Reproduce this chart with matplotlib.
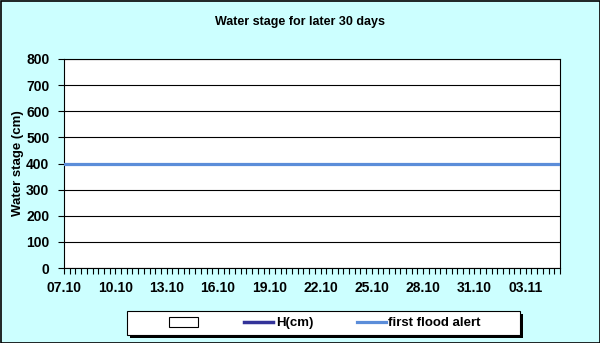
import matplotlib
matplotlib.use("Agg")
import matplotlib.pyplot as plt
from matplotlib.lines import Line2D
from matplotlib.patches import Patch, Rectangle

# x axis: 3 readings per day, labels every 3 days
date_labels = ["07.10", "10.10", "13.10", "16.10", "19.10",
               "22.10", "25.10", "28.10", "31.10", "03.11"]
steps_per_day = 3
n_steps = 87

h_cm = []             # no readings yet
flood_alert = 400     # first flood alert level (cm)

plt.rcParams['font.family'] = ['Liberation Sans', 'DejaVu Sans']
plt.rcParams['font.weight'] = 'bold'

W, H = 600, 343
fig = plt.figure(figsize=(6, 3.43), dpi=100, facecolor='#CCFFFF')

def px_rect(x0, y0, x1, y1, **kw):
    # rectangle given in pixel coords from top-left
    r = Rectangle((x0 / W, 1 - y1 / H), (x1 - x0) / W, (y1 - y0) / H,
                  transform=fig.transFigure, **kw)
    fig.patches.append(r)
    return r

px_rect(0.5, 0.5, 599.5, 342.5, fill=False, edgecolor='black', linewidth=1.2)

ax = fig.add_axes([64 / W, 1 - 268 / H, 496 / W, 209 / H])
ax.set_facecolor('white')

ax.plot(range(len(h_cm)), h_cm, color='#333399', linewidth=2.5)
ax.axhline(flood_alert, color='#5B8DD9', linewidth=2.3, zorder=3)

ax.set_xlim(0, n_steps)
ax.set_ylim(0, 800)
ax.set_yticks(range(0, 801, 100))
ax.yaxis.grid(True, color='black', linewidth=0.8)
ax.set_axisbelow(True)

label_pos = [i * 3 * steps_per_day for i in range(len(date_labels))]
ax.set_xticks(label_pos)
ax.set_xticklabels(date_labels)
ax.set_xticks(range(0, n_steps + 1), minor=True)
ax.tick_params(axis='x', which='both', direction='out', length=4, width=0.8,
               labelsize=10, pad=5)
ax.tick_params(axis='y', direction='out', length=4, width=0.8, labelsize=10, pad=6.5)
for s in ax.spines.values():
    s.set_color('black')
    s.set_linewidth(0.8)

ax.set_ylabel("Water stage (cm)", fontsize=9.5, fontweight='bold', labelpad=1.5)
fig.text(0.5, 1 - 22 / H, "Water stage for later 30 days", ha='center', va='center',
         fontsize=9, fontweight='bold')

# legend box with solid shadow
px_rect(130, 314, 523, 338, facecolor='black', edgecolor='none')
px_rect(127, 311, 520, 335, facecolor='white', edgecolor='black', linewidth=0.8)

handles = [Patch(facecolor='white', edgecolor='black', linewidth=0.8),
           Line2D([], [], color='#333399', linewidth=2.5),
           Line2D([], [], color='#5B8DD9', linewidth=2.3)]
labels = ["", "H(cm)", "first flood alert"]
fig.legend(handles, labels, loc='center', ncol=3,
           bbox_to_anchor=(325 / W, 1 - 323 / H),
           fontsize=9.5, frameon=False, handlelength=2.2, handleheight=0.8,
           handletextpad=0.2, columnspacing=3.3)

fig.savefig("out.png", dpi=100, facecolor=fig.get_facecolor())
